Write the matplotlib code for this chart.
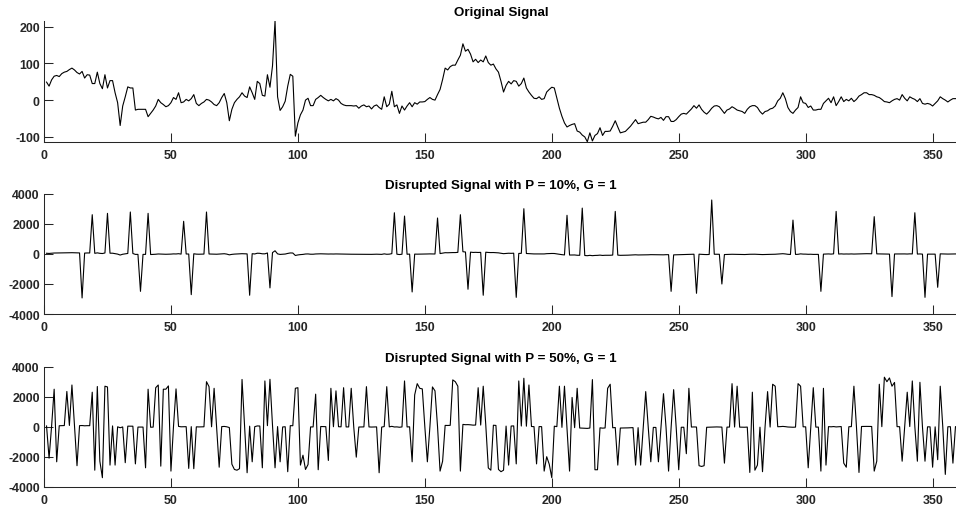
import numpy as np
import matplotlib
matplotlib.use("Agg")
import matplotlib.pyplot as plt

# ---- signal data (samples 1..360) ----
original = [
    49, 38, 55, 65, 67, 64, 72, 76, 78, 83,
    87, 82, 75, 71, 78, 60, 69, 68, 45, 45,
    76, 45, 31, 69, 33, 53, 53, 20, -7, -69,
    -16, 9, 36, 33, 33, -27, -25, -25, -25, -25,
    -45, -36, -27, -16, 2, -7, -12, -18, -15, -7,
    7, 2, 20, -7, -5, 2, -2, 4, 15, -9,
    -15, -9, -5, 2, 0, -5, -12, -15, -7, 7,
    18, -7, -56, -25, -7, 2, 9, 20, 11, 7,
    36, 20, 2, 51, 45, 13, 11, 69, 35, 93,
    215, 9, -28, -18, -3, 38, 70, 65, -98, -62,
    -40, -27, 0, 5, -15, -15, 2, 7, 13, 7,
    2, -2, 2, -2, 4, 0, -9, -13, -15, -15,
    -15, -16, -15, -22, -16, -13, -18, -16, -24, -16,
    -13, -20, -25, 9, -18, -11, 24, -18, -13, -36,
    -16, -27, -16, -7, -18, -7, -11, -5, -5, -4,
    2, 7, 2, 0, 15, 29, 56, 87, 82, 91,
    95, 95, 109, 122, 153, 133, 138, 125, 104, 111,
    102, 109, 104, 120, 102, 95, 98, 85, 76, 51,
    22, 40, 51, 44, 53, 51, 38, 45, 60, 33,
    22, 13, 5, 4, 9, 2, 4, 22, 29, 35,
    33, 5, -22, -44, -62, -73, -69, -66, -64, -84,
    -87, -95, -100, -113, -89, -111, -96, -91, -75, -96,
    -85, -85, -84, -71, -56, -73, -89, -87, -85, -78,
    -71, -62, -53, -64, -62, -60, -60, -53, -44, -46,
    -49, -51, -47, -55, -45, -45, -58, -58, -53, -45,
    -38, -36, -38, -31, -24, -15, -22, -13, -25, -33,
    -38, -31, -22, -16, -15, -18, -27, -36, -27, -24,
    -18, -22, -27, -29, -31, -36, -25, -18, -15, -15,
    -20, -31, -38, -31, -29, -24, -22, -16, -2, 5,
    20, 4, -20, -31, -36, -27, -20, 9, -7, -9,
    -20, -16, -27, -27, -25, -25, -9, -2, 5, -7,
    9, -15, -4, 9, -4, 2, -2, 5, -4, 2,
    11, 15, 20, 20, 15, 15, 13, 9, 7, 2,
    -4, -5, -7, -2, 2, 4, 0, 15, 5, -2,
    9, 5, 2, -4, 4, -9, -11, -9, -11, -16,
    -9, -2, 9, 4, 0, -5, 0, 4, 4, 4,
]

# disrupted samples, P = 10%
p10_idx = [15, 19, 25, 34, 38, 41, 55, 58, 64, 81, 89,
           138, 142, 145, 155, 164, 167, 173, 186, 189, 206, 212, 225,
           247, 257, 263, 267, 295, 306, 312, 327, 334, 343, 347, 352]
p10_val = [-2930, 2620, 2710, 2800, -2490, 2710, 2180, -2710, 2800, -2750, -2260,
           2750, 2530, -2530, 2400, 2620, -2350, -2750, -2890, 3020, 2580, 3060, 2840,
           -2490, -2620, 3600, -2000, 2260, -2490, 2840, 2490, -2840, 2750, -2890, -2220]

# disrupted samples, P = 50%
p50_idx = [2, 4, 5, 9, 11, 13, 19, 20, 21, 22, 23, 24, 25, 26, 28, 32, 36, 40,
           41, 44, 45, 46, 47, 48, 49, 50, 52, 57, 59, 64, 65, 67, 69, 74, 75,
           76, 77, 78, 80, 82, 86, 87, 89, 91, 93, 96, 99, 100, 101, 102, 103,
           104, 107, 108, 112, 113, 115, 118, 121, 123, 127, 132, 135, 142, 145,
           146, 147, 148, 149, 151, 153, 154, 156, 157, 161, 162, 163, 164, 171,
           173, 175, 176, 179, 180, 181, 183, 186, 187, 189, 191, 194, 197, 198,
           199, 200, 203, 205, 207, 208, 210, 216, 217, 218, 222, 223, 226, 233,
           235, 237, 239, 242, 244, 246, 248, 250, 253, 254, 258, 259, 260, 268,
           271, 273, 278, 279, 280, 281, 283, 285, 287, 288, 297, 298, 301, 303,
           306, 307, 308, 315, 316, 319, 321, 327, 328, 329, 331, 332, 333, 334,
           335, 338, 340, 342, 344, 345, 347, 350, 352, 353, 355, 358]
p50_val = [-2100, 2500, -2340, 2350, 2780, -2600, 2300, -2900, 2680, -2300, -3400, 2700, 2650, -2560, -2560, -2400, -2480, -2740,
           2500, 2600, 2780, -2630, 2500, 2500, 2720, -2960, 2520, -2780, -2800, 3000, 2670, 2560, -2700, -2500, -2850,
           -2900, -2800, 3150, -3070, -2340, -2740, 3050, 3160, -2740, -2340, -3000, 2560, 2600, -2560, -1900, -2850,
           -2520, 2170, -2870, -2250, 2560, 2390, 2600, 2560, -2030, 2670, -3070, 2670, 3050, -2340,
           2120, 2870, 2560, 2520, -2340, 2650, 2390, -2960, -2300, 3120, 3000, 2700, -2960, 2600,
           2700, -2750, -2900, -2850, -3000, -2900, -2560, -2480, 3050, 3230, 2780, -2480, -2960, -2000,
           -2500, -3400, 2700, 2700, -2960, 1950, 2560, 3140, -2870, -2870, 2560, 2830, -2560, -2560,
           -2560, 2340, -2340, -2340, 2200, -2960, 2470, -2870, -1800, 2560, -2600, -2650, -2600, -2430,
           2870, 2700, -3050, 2300, -2900, -2560, -3000, 2340, 2830, 2700, 2870, 2700, -2740, 2600,
           -2960, 2560, -2560, -2430, -2700, 2700, -3050, -2960, -2300, 2830, 3300, 3000, 3250, 2700,
           2950, -2300, 2300, 3050, -2300, 2960, -2300, -2700, -2200, 2700, -3180, -2430]

titles = ["Original Signal",
          "Disrupted Signal with P = 10%, G = 1",
          "Disrupted Signal with P = 50%, G = 1"]

x = np.arange(1, len(original) + 1)
orig = np.array(original, dtype=float)

sig10 = orig.copy()
sig10[np.array(p10_idx) - 1] = p10_val
sig50 = orig.copy()
sig50[np.array(p50_idx) - 1] = p50_val

# ---- style ----
plt.rcParams["font.family"] = ["Liberation Sans", "DejaVu Sans"]
plt.rcParams["font.weight"] = "bold"
plt.rcParams["axes.unicode_minus"] = False

AX_COLOR = "#262626"

fig = plt.figure(figsize=(9.56, 5.10), dpi=100)

W, H = 956.0, 510.0
left = 44 / W
width = 914 / W
boxes = [
    (left, 1 - 142.7 / H, width, 120.7 / H),
    (left, 1 - 315 / H, width, 120 / H),
    (left, 1 - 487.7 / H, width, 120 / H),
]

series = [orig, sig10, sig50]
ylims = [(orig.min(), orig.max()), (-4000, 4000), (-4000, 4000)]
yticks = [[-100, 0, 100, 200],
          [-4000, -2000, 0, 2000, 4000],
          [-4000, -2000, 0, 2000, 4000]]

for box, y, ttl, yl, yt in zip(boxes, series, titles, ylims, yticks):
    ax = fig.add_axes(box)
    ax.plot(x, y, color="black", linewidth=0.8)
    ax.set_xlim(0, 360)
    ax.set_ylim(*yl)
    ax.set_xticks(np.arange(0, 360, 50))
    ax.set_yticks(yt)
    ax.set_title(ttl, fontsize=9.6, fontweight="bold", pad=4, color="black")

    for side in ["top", "right"]:
        ax.spines[side].set_visible(False)
    for side in ["left", "bottom"]:
        ax.spines[side].set_color(AX_COLOR)
        ax.spines[side].set_linewidth(0.75)

    ax.tick_params(direction="in", length=6.8, width=0.75, color=AX_COLOR,
                   labelcolor=AX_COLOR, labelsize=8.9)
    ax.tick_params(axis="x", pad=5)
    ax.tick_params(axis="y", pad=3)
    for lab in ax.get_xticklabels() + ax.get_yticklabels():
        lab.set_fontweight("bold")

fig.savefig("out.png", dpi=100)
